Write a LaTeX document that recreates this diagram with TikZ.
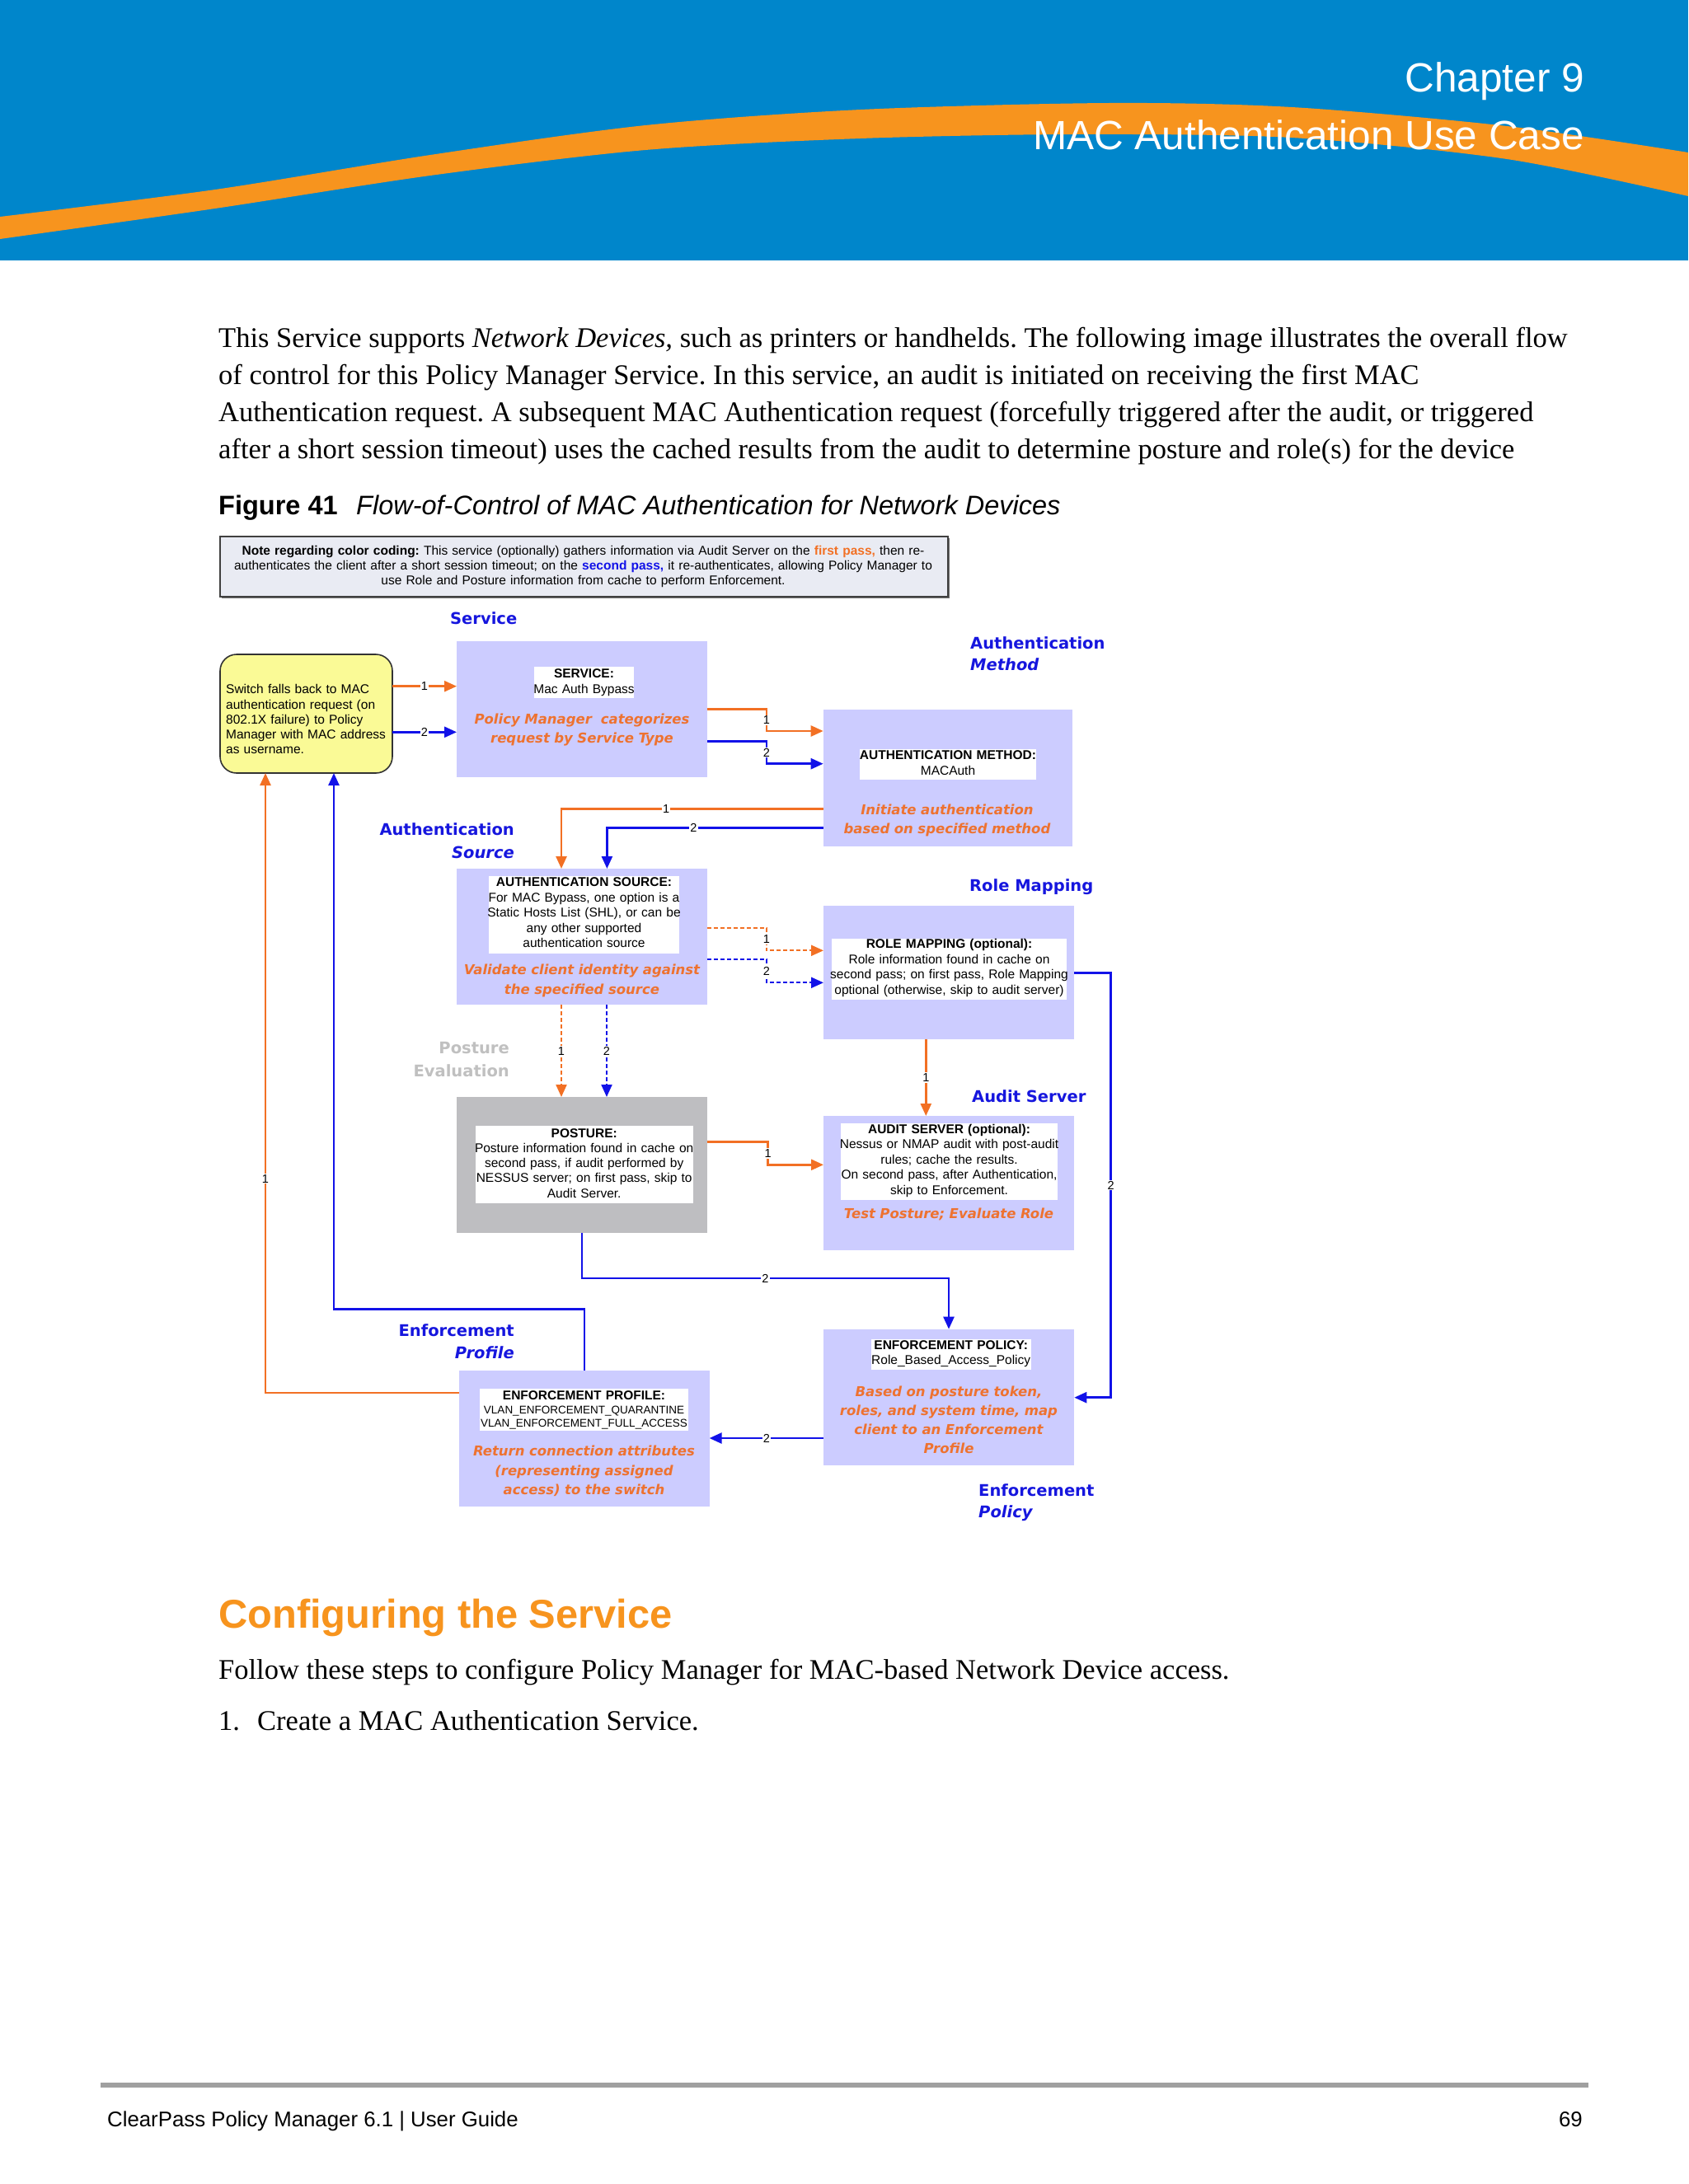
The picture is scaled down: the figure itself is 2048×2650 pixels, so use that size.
\documentclass[tikz,border=0pt]{standalone}
\usepackage{fontspec}
\setmainfont{Liberation Serif}
\newfontfamily\arial{Liberation Sans}
\newfontfamily\dvs{DejaVu Sans}[BoldFont={DejaVu Sans Bold},ItalicFont={DejaVu Sans Oblique},BoldItalicFont={DejaVu Sans Bold Oblique}]
\usetikzlibrary{arrows.meta}
\frenchspacing
\definecolor{hdrblue}{RGB}{0,134,203}
\definecolor{hdrorange}{RGB}{247,148,30}
\definecolor{lav}{RGB}{204,204,255}
\definecolor{postgray}{RGB}{190,190,193}
\definecolor{lorange}{RGB}{242,112,36}
\definecolor{tor}{RGB}{238,114,48}
\definecolor{lblue}{RGB}{18,18,232}
\definecolor{tblue}{RGB}{22,22,222}
\definecolor{yelfill}{RGB}{250,250,150}
\definecolor{notefill}{RGB}{233,235,243}
\definecolor{ruleg}{RGB}{160,160,160}
\definecolor{lgray}{RGB}{192,192,192}
\tikzset{
  box/.style={fill=lav, anchor=north west, inner sep=0pt, outer sep=0pt},
  wbox/.style={fill=white, anchor=north west, inner sep=0pt, outer sep=0pt},
  blk/.style={font=\arial\fontsize{15.5}{18.5}\selectfont, anchor=base, align=center, text width=330pt, inner sep=0pt},
  otxt/.style={font=\dvs\bfseries\itshape\fontsize{16.5}{23.3}\selectfont, text=tor, anchor=base, align=center, text width=330pt, inner sep=0pt},
  lab/.style={font=\dvs\bfseries\fontsize{19.5}{26.5}\selectfont, text=tblue, inner sep=0pt},
  num/.style={font=\arial\fontsize{14.5}{14.5}\selectfont, fill=white, inner sep=1.2pt},
  ol/.style={draw=lorange, line width=2.5pt},
  bl/.style={draw=lblue, line width=2.5pt},
  tip/.style={-{Triangle[length=15pt,width=13pt]}},
  dsh/.style={line width=2.1pt, dash pattern=on 5pt off 3pt},
  body/.style={font=\fontsize{34.5}{45}\selectfont, anchor=base west, inner sep=0pt},
}
\begin{document}
\begin{tikzpicture}[x=1pt,y=-1pt]
\useasboundingbox (0,0) rectangle (2048,2650);
\fill[white] (0,0) rectangle (2048,2650);
% header
\fill[hdrblue] (0,0) rectangle (2048,316);
\fill[hdrorange] plot[smooth] coordinates {(0,263) (261,230) (522,188) (783,152) (1044,133) (1345,125) (1567,130) (1828,153) (2048,185)}
  -- plot[smooth] coordinates {(2048,238) (1828,193) (1567,167) (1305,163) (1044,168) (783,182) (522,213) (261,253) (0,290)} -- cycle;
\node[font=\arial\fontsize{49.5}{50}\selectfont, text=white, anchor=base east, inner sep=0pt] (chap) at (1922,111) {Chapter 9};
\node[font=\arial\fontsize{49.5}{50}\selectfont, text=white, anchor=base east, inner sep=0pt] (title) at (1922,181) {MAC Authentication Use Case};
% intro text
\node[body] (p1) at (265,421) {This Service supports \textit{Network Devices,} such as printers or handhelds. The following image illustrates the overall flow};
\node[body] (p2) at (265,466) {of control for this Policy Manager Service. In this service, an audit is initiated on receiving the first MAC};
\node[body] (p3) at (265,511) {Authentication request. A subsequent MAC Authentication request (forcefully triggered after the audit, or triggered};
\node[body] (p4) at (265,556) {after a short session timeout) uses the cached results from the audit to determine posture and role(s) for the device};
\node[font=\arial\bfseries\fontsize{32.5}{34}\selectfont, anchor=base west, inner sep=0pt] (figno) at (265,624) {Figure 41};
\node[font=\arial\itshape\fontsize{32.5}{34}\selectfont, anchor=base west, inner sep=0pt] (figcap) at (432,624) {Flow-of-Control of MAC Authentication for Network Devices};
% note box
\fill[black!55] (269,653) rectangle (1152,726);
\node[fill=notefill, draw=black!75, line width=1.5pt, anchor=north west, minimum width=883pt, minimum height=73pt, inner sep=0pt] (note) at (266,650) {};
\node[font=\arial\fontsize{15.5}{18}\selectfont, anchor=base, align=center, text width=900pt, inner sep=0pt] (notetxt) at (707.5,673)
 {\textbf{Note regarding color coding:} This service (optionally) gathers information via Audit Server on the \textbf{\color{lorange}first pass,} then re-\\
  authenticates the client after a short session timeout; on the \textbf{\color{lblue}second pass,} it re-authenticates, allowing Policy Manager to\\
  use Role and Posture information from cache to perform Enforcement.};
% group labels
\node[lab, anchor=base west] (lsvc) at (546,757) {Service};
\node[lab, anchor=base west] (lmeth1) at (1177,787) {Authentication};
\node[lab, anchor=base west] (lmeth2) at (1177,813) {\itshape Method};
\node[lab, anchor=base east] (lsrc1) at (624,1013) {Authentication};
\node[lab, anchor=base east] (lsrc2) at (624,1041.5) {\itshape Source};
\node[lab, anchor=base west] (lrole) at (1176,1081) {Role Mapping};
\node[lab, anchor=base west] (laud) at (1179,1337) {Audit Server};
\node[lab, anchor=base east, text=lgray] (lpost1) at (618,1278.3) {Posture};
\node[lab, anchor=base east, text=lgray] (lpost2) at (618,1306.7) {Evaluation};
\node[lab, anchor=base east] (lep1) at (624,1621.7) {Enforcement};
\node[lab, anchor=base east] (lep2) at (624,1648.3) {\itshape Profile};
\node[lab, anchor=base west] (lpol1) at (1187,1815) {Enforcement};
\node[lab, anchor=base west] (lpol2) at (1187,1841.7) {\itshape Policy};
% yellow start box
\node[draw=black!80, line width=1.6pt, fill=yelfill, rounded corners=20pt, anchor=north west, minimum width=209pt, minimum height=144pt, inner sep=0pt, outer sep=0pt] (yel) at (267,794) {};
\node[font=\arial\fontsize{15.5}{18.3}\selectfont, anchor=base west, align=left, text width=205pt, inner sep=0pt] (yeltxt) at (274,841.7)
 {Switch falls back to MAC\\authentication request (on\\802.1X failure) to Policy\\Manager with MAC address\\as username.};
% service
\node[box, minimum width=304pt, minimum height=165pt] (svc) at (554,778) {};
\node[wbox, minimum width=121pt, minimum height=38pt] (svcw) at (648,809) {};
\node[blk] (svct) at (708.5,822.7) {\textbf{SERVICE:}\\Mac Auth Bypass};
\node[otxt] (svco) at (706,878) {Policy Manager\ \ categorizes\\request by Service Type};
% authentication method
\node[box, minimum width=302.5pt, minimum height=166pt] (meth) at (998.7,860.7) {};
\node[wbox, minimum width=214.5pt, minimum height=37pt] (methw) at (1042.5,909) {};
\node[blk] (metht) at (1150,921.7) {\textbf{AUTHENTICATION METHOD:}\\MACAuth};
\node[otxt] (metho) at (1149,988) {Initiate authentication\\based on specified method};
% authentication source
\node[box, minimum width=304.3pt, minimum height=165pt] (src) at (553.6,1054) {};
\node[wbox, minimum width=231pt, minimum height=94pt] (srcw) at (593,1062.7) {};
\node[blk] (srct) at (708.5,1075.7) {\textbf{AUTHENTICATION SOURCE:}\\For MAC Bypass, one option is a\\Static Hosts List (SHL), or can be\\any other supported\\authentication source};
\node[otxt] (srco) at (706,1182.7) {Validate client identity against\\the specified source};
% role mapping
\node[box, minimum width=304pt, minimum height=162pt] (role) at (999,1099) {};
\node[wbox, minimum width=285pt, minimum height=74pt] (rolew) at (1009,1139) {};
\node[blk] (rolet) at (1151.5,1150.7) {\textbf{ROLE MAPPING (optional):}\\Role information found in cache on\\second pass; on first pass, Role Mapping\\optional (otherwise, skip to audit server)};
% posture
\node[box, fill=postgray, minimum width=303.7pt, minimum height=164.7pt] (post) at (554,1331) {};
\node[wbox, minimum width=264pt, minimum height=94pt] (postw) at (576.7,1366) {};
\node[blk, font=\arial\fontsize{15.5}{18.3}\selectfont] (postt) at (708.7,1380) {\textbf{POSTURE:}\\Posture information found in cache on\\second pass, if audit performed by\\NESSUS server; on first pass, skip to\\Audit Server.};
% audit server
\node[box, minimum width=304pt, minimum height=162.7pt] (aud) at (999,1354) {};
\node[wbox, minimum width=263pt, minimum height=93.3pt] (audw) at (1020,1362.7) {};
\node[blk] (audt) at (1151.5,1375) {\textbf{AUDIT SERVER (optional):}\\Nessus or NMAP audit with post-audit\\rules; cache the results.\\On second pass, after Authentication,\\skip to Enforcement.};
\node[otxt] (audo) at (1151,1478.3) {Test Posture; Evaluate Role};
% enforcement policy
\node[box, minimum width=304pt, minimum height=165.6pt] (epol) at (999.3,1612.7) {};
\node[wbox, minimum width=194pt, minimum height=36.7pt] (epolw) at (1056.7,1625) {};
\node[blk] (epolt) at (1153.7,1637.3) {\textbf{ENFORCEMENT POLICY:}\\Role\_Based\_Access\_Policy};
\node[otxt] (epolo) at (1151,1694) {Based on posture token,\\roles, and system time, map\\client to an Enforcement\\Profile};
% enforcement profile
\node[box, minimum width=303.6pt, minimum height=165pt] (eprof) at (557,1662.7) {};
\node[wbox, minimum width=253pt, minimum height=51pt] (eprofw) at (582,1685) {};
\node[blk, font=\arial\fontsize{15.5}{16.7}\selectfont] (eproft) at (708.5,1698.3) {\textbf{ENFORCEMENT PROFILE:}\\\fontsize{13.5}{16.7}\selectfont VLAN\_ENFORCEMENT\_QUARANTINE\\VLAN\_ENFORCEMENT\_FULL\_ACCESS};
\node[otxt] (eprofo) at (708.5,1766.7) {Return connection attributes\\(representing assigned\\access) to the switch};
% connectors
\draw[ol,tip] (yel.east |- 0,832.7) -- node[num]{1} (svc.west |- 0,832.7);
\draw[bl,tip] (yel.east |- 0,888.3) -- node[num]{2} (svc.west |- 0,888.3);
\draw[ol,tip] (svc.east |- 0,860.7) -- (930,860.7) -- node[num]{1} (930,887) -- (meth.west |- 0,887);
\draw[bl,tip] (svc.east |- 0,899.3) -- (930,899.3) -- node[num]{2} (930,926.7) -- (meth.west |- 0,926.7);
\draw[ol,tip] (meth.west |- 0,981.7) -- node[num,pos=0.6]{1} (681,981.7) -- (src.north -| 681,0);
\draw[bl,tip] (meth.west |- 0,1004.3) -- node[num,pos=0.6]{2} (736.4,1004.3) -- (src.north -| 736.4,0);
\draw[ol,dsh,tip] (src.east |- 0,1125.7) -- (930,1125.7) -- node[num]{1} (930,1153.3) -- (role.west |- 0,1153.3);
\draw[bl,dsh,tip] (src.east |- 0,1164.3) -- (930,1164.3) -- node[num]{2} (930,1192.3) -- (role.west |- 0,1192.3);
\draw[ol,dsh,tip] (src.south -| 681,0) -- node[num]{1} (post.north -| 681,0);
\draw[bl,dsh,tip] (src.south -| 736,0) -- node[num]{2} (post.north -| 736,0);
\draw[ol,tip] (role.south -| 1123.3,0) -- node[num]{1} (aud.north -| 1123.3,0);
\draw[bl,tip] (role.east |- 0,1180.7) -- (1347.7,1180.7) -- node[num]{2} (1347.7,1695.7) -- (epol.east |- 0,1695.7);
\draw[ol,tip] (post.east |- 0,1385.7) -- (931.7,1385.7) -- node[num]{1} (931.7,1413.3) -- (aud.west |- 0,1413.3);
\draw[bl,tip] (post.south -| 706,0) -- (706,1551) -- node[num]{2} (1151,1551) -- (epol.north -| 1151,0);
\draw[bl,tip] (epol.west |- 0,1745) -- node[num]{2} (eprof.east |- 0,1745);
\draw[ol,tip] (eprof.west |- 0,1690) -- (322,1690) -- node[num,pos=0.3457]{1} (yel.south -| 322,0);
\draw[bl,tip] (eprof.north) -- (eprof.north |- 0,1588.3) -- (405,1588.3) -- (yel.south -| 405,0);
% lower text
\node[font=\arial\bfseries\fontsize{48.8}{50}\selectfont, text=hdrorange, anchor=base west, inner sep=0pt] (conf) at (265,1975) {Configuring the Service};
\node[body] (follow) at (265,2037) {Follow these steps to configure Policy Manager for MAC-based Network Device access.};
\node[body] (step1n) at (265,2099) {1.};
\node[body] (step1) at (312,2099) {Create a MAC Authentication Service.};
% footer
\draw[ruleg, line width=5.5pt] (122,2530) -- (1927,2530);
\node[font=\arial\fontsize{25.8}{27}\selectfont, anchor=base west, inner sep=0pt] (foot) at (130,2580) {ClearPass Policy Manager 6.1 | User Guide};
\node[font=\arial\fontsize{25.8}{27}\selectfont, anchor=base east, inner sep=0pt] (page) at (1920,2580) {69};
\end{tikzpicture}
\end{document}
